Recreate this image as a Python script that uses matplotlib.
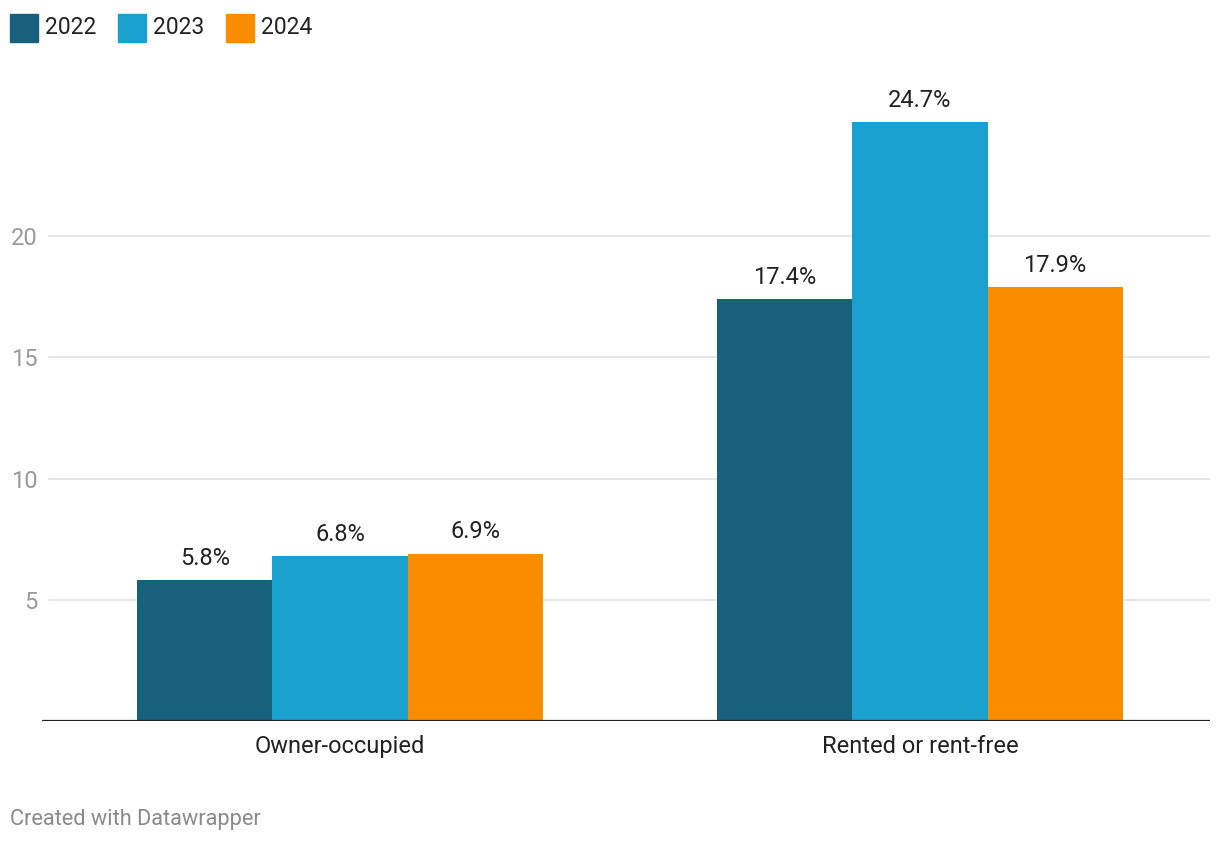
import matplotlib
matplotlib.use("Agg")
import matplotlib.pyplot as plt
import numpy as np

categories = ["Owner-occupied", "Rented or rent-free"]
years = ["2022", "2023", "2024"]
values_2022 = [5.8, 17.4]
values_2023 = [6.8, 24.7]
values_2024 = [6.9, 17.9]
series = [values_2022, values_2023, values_2024]
colors = ["#17617c", "#1aa1cf", "#fa8c00"]
yticks = [5, 10, 15, 20]

plt.rcParams['font.family'] = ['Roboto', 'DejaVu Sans']

W, H = 1220, 844
fig = plt.figure(figsize=(W / 100, H / 100), dpi=100)
ax_left, ax_right, ax_bottom = 42, 1210, 721
ymax = 26
px_per_unit = 121.2 / 5
ax_top = ax_bottom - ymax * px_per_unit
ax = fig.add_axes([ax_left / W, 1 - ax_bottom / H, (ax_right - ax_left) / W, (ax_bottom - ax_top) / H])

x = np.arange(len(categories))
width = 0.2328
offsets = [-width, 0, width]
for vals, off, col, yr in zip(series, offsets, colors, years):
    ax.bar(x + off, vals, width=width, color=col, label=yr, zorder=3, linewidth=0)
    for xi, v in zip(x + off, vals):
        ax.annotate(f"{v}%", (xi, v), xytext=(0, 7.5), textcoords="offset points",
                    ha="center", va="bottom", fontsize=17, color="#222222")

ax.set_xlim(-298 / 580, (ax_right - 340) / 580)
ax.set_ylim(0, ymax)

gx0 = 7 / (ax_right - ax_left)
for t in yticks:
    ax.axhline(t, xmin=gx0, xmax=1, color="#e2e2e2", linewidth=1.2, zorder=1)
ax.axhline(0, color="#222222", linewidth=1.6, zorder=4)

ax.set_yticks(yticks)
ax.set_yticklabels([str(t) for t in yticks], fontsize=17, color="#9a9a9a")
ax.tick_params(axis="y", length=0, pad=3)
ax.set_xticks(x)
ax.set_xticklabels(categories, fontsize=17, color="#222222")
ax.tick_params(axis="x", length=0, pad=10)
for s in ax.spines.values():
    s.set_visible(False)

# legend
lx = 10
for yr, col in zip(years, colors):
    fig.patches.append(plt.Rectangle((lx / W, 1 - 42 / H), 28 / W, 28 / H,
                                     transform=fig.transFigure, color=col, figure=fig))
    fig.text((lx + 35) / W, 1 - 27 / H, yr, fontsize=16.5, color="#222222", va="center", ha="left")
    lx += 108

fig.text(10 / W, 1 - 819 / H, "Created with Datawrapper", fontsize=15.7, color="#8a8a8a",
         va="center", ha="left")

fig.savefig("out.png", dpi=100, facecolor="white")
